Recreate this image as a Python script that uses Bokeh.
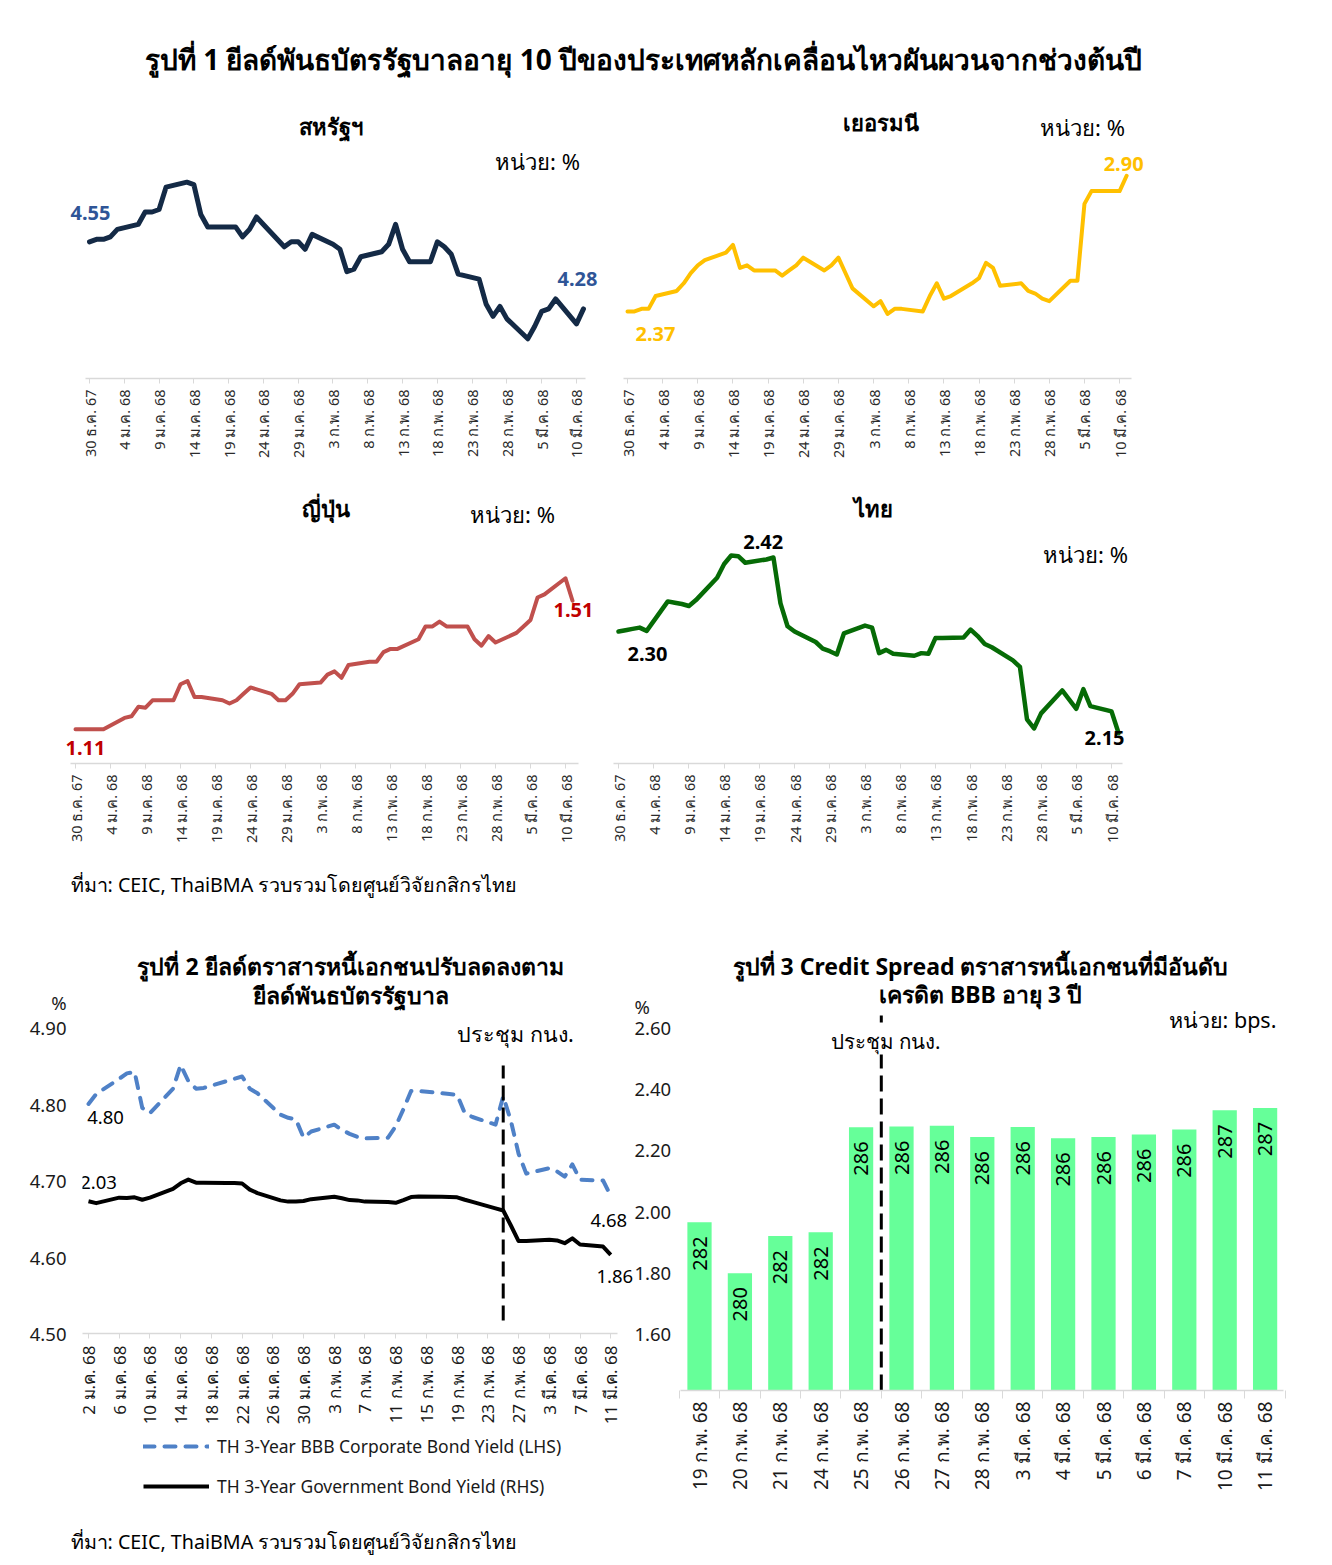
import math
import numpy as np
import pandas as pd
from bokeh.plotting import figure
from bokeh.models import Label, FixedTicker, Range1d, LinearAxis, Legend, LegendItem
from bokeh.layouts import column, row
from bokeh.embed import file_html
from bokeh.resources import INLINE
from bokeh.core.properties import value

FONT = "Noto Sans"

# ---------------- Figure 1 data: 10Y government bond yields (%) ----------------
f1_dates = ["2024-12-30", "2024-12-31", "2025-01-01", "2025-01-02", "2025-01-03",
            "2025-01-06", "2025-01-07", "2025-01-08", "2025-01-09", "2025-01-10",
            "2025-01-13", "2025-01-14", "2025-01-15", "2025-01-16", "2025-01-17",
            "2025-01-20", "2025-01-21", "2025-01-22", "2025-01-23", "2025-01-24",
            "2025-01-27", "2025-01-28", "2025-01-29", "2025-01-30", "2025-01-31",
            "2025-02-03", "2025-02-04", "2025-02-05", "2025-02-06", "2025-02-07",
            "2025-02-10", "2025-02-11", "2025-02-12", "2025-02-13", "2025-02-14",
            "2025-02-17", "2025-02-18", "2025-02-19", "2025-02-20", "2025-02-21",
            "2025-02-24", "2025-02-25", "2025-02-26", "2025-02-27", "2025-02-28",
            "2025-03-03", "2025-03-04", "2025-03-05", "2025-03-06", "2025-03-07",
            "2025-03-10", "2025-03-11"]
us_10y = [4.55, 4.56, 4.56, 4.57, 4.60,
          4.62, 4.67, 4.67, 4.68, 4.77,
          4.79, 4.78, 4.66, 4.61, 4.61,
          4.61, 4.57, 4.60, 4.65, 4.62,
          4.53, 4.55, 4.55, 4.52, 4.58,
          4.54, 4.52, 4.43, 4.44, 4.49,
          4.51, 4.54, 4.62, 4.52, 4.47,
          4.47, 4.55, 4.53, 4.50, 4.42,
          4.40, 4.30, 4.25, 4.29, 4.24,
          4.16, 4.21, 4.27, 4.28, 4.32,
          4.22, 4.28]
de_10y = [2.37, 2.37, 2.38, 2.38, 2.43,
          2.45, 2.48, 2.52, 2.55, 2.57,
          2.60, 2.63, 2.54, 2.55, 2.53,
          2.53, 2.51, 2.53, 2.55, 2.58,
          2.53, 2.55, 2.58, 2.52, 2.46,
          2.39, 2.41, 2.36, 2.38, 2.38,
          2.37, 2.43, 2.48, 2.42, 2.43,
          2.48, 2.50, 2.56, 2.54, 2.47,
          2.48, 2.45, 2.44, 2.42, 2.41,
          2.49, 2.49, 2.79, 2.84, 2.84,
          2.84, 2.90]
jp_10y = [1.11, 1.11, 1.11, 1.11, 1.11,
          1.145, 1.15, 1.18, 1.177, 1.20,
          1.20, 1.25, 1.26, 1.21, 1.21,
          1.20, 1.19, 1.20, 1.22, 1.24,
          1.22, 1.20, 1.20, 1.22, 1.25,
          1.255, 1.28, 1.29, 1.27, 1.31,
          1.32, 1.32, 1.35, 1.36, 1.36,
          1.39, 1.43, 1.43, 1.445, 1.43,
          1.43, 1.39, 1.37, 1.40, 1.38,
          1.41, 1.43, 1.45, 1.52, 1.53,
          1.58, 1.51]
th_10y = [2.300, 2.302, 2.304, 2.306, 2.301,
          2.346, 2.344, 2.342, 2.339, 2.348,
          2.382, 2.403, 2.416, 2.415, 2.405,
          2.410, 2.413, 2.343, 2.308, 2.300,
          2.284, 2.274, 2.270, 2.265, 2.297,
          2.309, 2.306, 2.267, 2.272, 2.266,
          2.263, 2.267, 2.266, 2.290, 2.290,
          2.291, 2.303, 2.293, 2.281, 2.276,
          2.256, 2.246, 2.166, 2.152, 2.175,
          2.210, 2.196, 2.182, 2.212, 2.186,
          2.178, 2.145]
f1_tick_dates = ["2024-12-30", "2025-01-04", "2025-01-09", "2025-01-14", "2025-01-19",
                 "2025-01-24", "2025-01-29", "2025-02-03", "2025-02-08", "2025-02-13",
                 "2025-02-18", "2025-02-23", "2025-02-28", "2025-03-05", "2025-03-10"]
f1_tick_labels = ["30 ธ.ค. 67", "4 ม.ค. 68", "9 ม.ค. 68", "14 ม.ค. 68", "19 ม.ค. 68",
                  "24 ม.ค. 68", "29 ม.ค. 68", "3 ก.พ. 68", "8 ก.พ. 68", "13 ก.พ. 68",
                  "18 ก.พ. 68", "23 ก.พ. 68", "28 ก.พ. 68", "5 มี.ค. 68", "10 มี.ค. 68"]

# ---------------- Figure 2 data: TH 3Y yields ----------------
f2_dates = f1_dates[3:]
corp_bbb = [4.800, 4.813,
            4.833, 4.840, 4.842, 4.795, 4.788,
            4.820, 4.851, 4.830, 4.820, 4.821,
            4.830, 4.833, 4.836, 4.820, 4.814,
            4.786, 4.782, 4.780, 4.756, 4.764,
            4.773, 4.766, 4.761, 4.757, 4.755,
            4.756, 4.771, 4.793, 4.817, 4.817,
            4.814, 4.813, 4.812, 4.788, 4.783,
            4.773, 4.810, 4.778, 4.735, 4.709,
            4.716, 4.712, 4.705, 4.721, 4.701,
            4.700, 4.680]
gov_3y = [2.032, 2.026,
          2.044, 2.043, 2.045, 2.037, 2.044,
          2.073, 2.091, 2.103, 2.093, 2.093,
          2.092, 2.092, 2.090, 2.070, 2.059,
          2.035, 2.031, 2.031, 2.033, 2.039,
          2.047, 2.042, 2.036, 2.035, 2.031,
          2.030, 2.027, 2.036, 2.046, 2.048,
          2.047, 2.046, 2.045, 2.037, 2.030,
          2.009, 2.002, 1.953, 1.902, 1.902,
          1.906, 1.904, 1.895, 1.911, 1.891,
          1.884, 1.857]
f2_tick_dates = ["2025-01-02", "2025-01-06", "2025-01-10", "2025-01-14", "2025-01-18",
                 "2025-01-22", "2025-01-26", "2025-01-30", "2025-02-03", "2025-02-07",
                 "2025-02-11", "2025-02-15", "2025-02-19", "2025-02-23", "2025-02-27",
                 "2025-03-03", "2025-03-07", "2025-03-11"]
f2_tick_labels = ["2 ม.ค. 68", "6 ม.ค. 68", "10 ม.ค. 68", "14 ม.ค. 68", "18 ม.ค. 68",
                  "22 ม.ค. 68", "26 ม.ค. 68", "30 ม.ค. 68", "3 ก.พ. 68", "7 ก.พ. 68",
                  "11 ก.พ. 68", "15 ก.พ. 68", "19 ก.พ. 68", "23 ก.พ. 68", "27 ก.พ. 68",
                  "3 มี.ค. 68", "7 มี.ค. 68", "11 มี.ค. 68"]
f2_lhs_ticks = [4.5, 4.6, 4.7, 4.8, 4.9]
f2_rhs_ticks = [1.6, 1.8, 2.0, 2.2, 2.4, 2.6]
f2_series_names = ["TH 3-Year BBB Corporate Bond Yield (LHS)",
                   "TH 3-Year Government Bond Yield (RHS)"]
mpc_time = "2025-02-25"

# ---------------- Figure 3 data: credit spread (bps) ----------------
f3_cats = ["19 ก.พ. 68", "20 ก.พ. 68", "21 ก.พ. 68", "24 ก.พ. 68", "25 ก.พ. 68",
           "26 ก.พ. 68", "27 ก.พ. 68", "28 ก.พ. 68", "3 มี.ค. 68", "4 มี.ค. 68",
           "5 มี.ค. 68", "6 มี.ค. 68", "7 มี.ค. 68", "10 มี.ค. 68", "11 มี.ค. 68"]
f3_spread = [282.12, 280.03, 281.56, 281.71, 286.03, 286.06, 286.10, 285.63,
             286.04, 285.58, 285.63, 285.73, 285.94, 286.73, 286.83]
f3_mpc_after = "25 ก.พ. 68"

CORP_STYLE = dict(line_color="#4f81c7", line_width=4, line_dash="11 10",
                  line_cap="round", line_join="round")
GOV_STYLE = dict(line_color="#000000", line_width=4, line_join="round")


def days(lst, origin):
    o = pd.Timestamp(origin)
    return [float((pd.Timestamp(s) - o) / pd.Timedelta(days=1)) for s in lst]


class Geo:
    """Panel geometry in page pixels and the matching data ranges."""
    def __init__(s, ox, oy, w, h, fl, fr, ft, fb, x0, x1, y0, y1):
        s.ox, s.oy, s.w, s.h = ox, oy, w, h
        s.fl, s.fr, s.ft, s.fb = fl, fr, ft, fb
        s.x0, s.x1, s.y0, s.y1 = x0, x1, y0, y1

    def page(s, px, py):
        x = s.x0 + (px - s.fl) * (s.x1 - s.x0) / (s.fr - s.fl)
        y = s.y0 + (s.fb - py) * (s.y1 - s.y0) / (s.fb - s.ft)
        return x, y

    def px_x(s, px):
        return s.page(px, s.fb)[0]

    def off(s, x, y, dx, dy):
        return (x + dx * (s.x1 - s.x0) / (s.fr - s.fl),
                y - dy * (s.y1 - s.y0) / (s.fb - s.ft))


def geo_time(ox, oy, w, h, fl, fr, ft, fb, tick0, ppd, y_at_fb, ppu):
    return Geo(ox, oy, w, h, fl, fr, ft, fb,
               (fl - tick0) / ppd, (fr - tick0) / ppd, y_at_fb, y_at_fb + (fb - ft) / ppu)


def make_fig(g, x_axis="below", y_axis=None):
    p = figure(width=g.w, height=g.h, x_range=Range1d(g.x0, g.x1),
               y_range=Range1d(g.y0, g.y1), output_backend="svg",
               toolbar_location=None, title=None,
               x_axis_location=x_axis, y_axis_location=y_axis,
               min_border_left=g.fl - g.ox, min_border_right=g.ox + g.w - g.fr,
               min_border_top=g.ft - g.oy, min_border_bottom=g.oy + g.h - g.fb)
    try:
        p.frame_align = False
    except Exception:
        pass
    p.outline_line_color = None
    p.background_fill_color = "white"
    p.border_fill_color = "white"
    for gr in p.grid:
        gr.visible = False
    return p


def text(p, g, px, py, t, size, bold=False, color="#000000", align="center",
         baseline="middle", bg=None):
    x, y = g.page(px, py)
    lab = Label(x=x, y=y, text=t, text_font=FONT, text_font_size=f"{size}px",
                text_font_style="bold" if bold else "normal", text_color=color,
                text_align=align, text_baseline=baseline)
    if bg is not None:
        lab.background_fill_color = bg
    p.add_layout(lab)


def vlabel(p, g, x, y, dx, dy, t, color, size=20, bold=True):
    lx, ly = g.off(x, y, dx, dy)
    p.add_layout(Label(x=lx, y=ly, text=t, text_font=FONT, text_font_size=f"{size}px",
                       text_font_style="bold" if bold else "normal", text_color=color,
                       text_align="center", text_baseline="middle"))


def style_time_axis(p, g, tick_x, tick_labels, size, color, bounds_px, standoff=6):
    ax = p.xaxis[0]
    ax.ticker = FixedTicker(ticks=tick_x)
    ax.major_label_overrides = {int(t): l for t, l in zip(tick_x, tick_labels)}
    ax.major_label_orientation = math.pi / 2
    ax.major_label_text_font = FONT
    ax.major_label_text_font_size = f"{size}px"
    ax.major_label_text_color = color
    ax.axis_line_color = "#d9d9d9"
    ax.axis_line_width = 1.5
    ax.major_tick_line_color = "#d9d9d9"
    ax.major_tick_out = 5
    ax.major_tick_in = 0
    ax.minor_tick_line_color = None
    ax.major_label_standoff = standoff
    ax.bounds = (g.px_x(bounds_px[0]), g.px_x(bounds_px[1]))


# ---------------- title figure ----------------
gt = Geo(0, 0, 1324, 95, 0, 1324, 0, 95, 0, 1324, 0, 95)
title_fig = make_fig(gt, x_axis=None, y_axis=None)
text(title_fig, gt, 643, 58,
     "รูปที่ 1 ยีลด์พันธบัตรรัฐบาลอายุ 10 ปีของประเทศหลักเคลื่อนไหวผันผวนจากช่วงต้นปี",
     28, bold=True)

x1d = days(f1_dates, "2024-12-30")
t1 = [int(v) for v in days(f1_tick_dates, "2024-12-30")]


def small_panel(g, vals, color, lw, name, unit_xy, name_xy, lab_color,
                first_off, last_off, bounds_px, peak_off=None):
    p = make_fig(g)
    p.line(x1d, vals, line_color=color, line_width=lw, line_join="round", line_cap="round")
    style_time_axis(p, g, t1, f1_tick_labels, 14.5, "#2b2b2b", bounds_px)
    text(p, g, name_xy[0], name_xy[1], name, 22, bold=True)
    text(p, g, unit_xy[0], unit_xy[1], "หน่วย: %", 22)
    vlabel(p, g, x1d[0], vals[0], first_off[0], first_off[1], f"{vals[0]:.2f}", lab_color)
    vlabel(p, g, x1d[-1], vals[-1], last_off[0], last_off[1], f"{vals[-1]:.2f}", lab_color)
    if peak_off is not None:
        i = int(np.argmax(vals))
        vlabel(p, g, x1d[i], vals[i], peak_off[0], peak_off[1], f"{vals[i]:.2f}", lab_color)
    return p


g_us = geo_time(0, 95, 608, 375, 0, 608, 95, 378, 89, 6.957, 4.0, 248.5)
us_fig = small_panel(g_us, us_10y, "#142a46", 5, "สหรัฐฯ", (537, 160), (330, 125),
                     "#2f5597", (1, -29), (-6, -30), (85, 585))
g_de = geo_time(608, 95, 716, 375, 608, 1324, 95, 378, 627, 7.03, 2.108, 256)
de_fig = small_panel(g_de, de_10y, "#ffc000", 4, "เยอรมนี", (1082, 126), (880, 121),
                     "#ffc000", (28, 23), (-3, -12), (623, 1131))
g_jp = geo_time(0, 470, 603, 390, 0, 603, 470, 763, 75, 7.0, 1.003, 321)
jp_fig = small_panel(g_jp, jp_10y, "#c0504d", 4, "ญี่ปุ่น", (512, 513), (325, 507),
                     "#c00000", (10, 19), (1, 9), (70, 578))
g_th = geo_time(603, 470, 721, 390, 603, 1324, 470, 763, 618, 7.043, 2.0985, 655)
th_fig = small_panel(g_th, th_10y, "#066b06", 4.5, "ไทย", (1085, 553), (873, 507),
                     "#000000", (29, 22), (-14, 5), (613, 1122), peak_off=(32, -14))

# ---------------- source 1 ----------------
gs1 = Geo(0, 860, 1324, 75, 0, 1324, 860, 935, 0, 1324, 0, 75)
src1_fig = make_fig(gs1, x_axis=None, y_axis=None)
text(src1_fig, gs1, 70, 884, "ที่มา: CEIC, ThaiBMA รวบรวมโดยศูนย์วิจัยกสิกรไทย", 19.7, align="left")

# ---------------- Figure 2 ----------------
x2d = days(f2_dates, "2025-01-02")
t2 = [int(v) for v in days(f2_tick_dates, "2025-01-02")]
g2 = geo_time(0, 935, 675, 493, 82, 634, 935, 1333, 88, 7.68, 4.5, 765)
c2 = make_fig(g2, y_axis="left")
rhs_top = 1.6 + (g2.fb - g2.ft) / 306.0
c2.extra_y_ranges = {"gov": Range1d(1.6, rhs_top)}
c2.line(x2d, corp_bbb, **CORP_STYLE)
c2.line(x2d, gov_3y, y_range_name="gov", **GOV_STYLE)
style_time_axis(c2, g2, t2, f2_tick_labels, 17, "#1a1a1a", (82, 617), standoff=7)
# "%" unit markers sit on the axes just above the top tick
pct_l = g2.page(0, 1002)[1]
pct_r = 1.6 + (g2.fb - 1006) / 306.0
ly = c2.yaxis[0]
ly.ticker = FixedTicker(ticks=f2_lhs_ticks + [pct_l])
ly.major_label_overrides = {**{v: f"{v:.2f}" for v in f2_lhs_ticks}, pct_l: "%"}
ry = LinearAxis(y_range_name="gov", ticker=FixedTicker(ticks=f2_rhs_ticks + [pct_r]))
ry.major_label_overrides = {**{v: f"{v:.2f}" for v in f2_rhs_ticks}, pct_r: "%"}
c2.add_layout(ry, "right")
for ax, so in ((ly, 16), (ry, 0)):
    ax.axis_line_color = None
    ax.major_tick_line_color = None
    ax.minor_tick_line_color = None
    ax.major_tick_out = 0
    ax.major_tick_in = 0
    ax.major_label_standoff = so
    ax.major_label_text_font = FONT
    ax.major_label_text_font_size = "18.5px"
    ax.major_label_text_color = "#1a1a1a"

mpc2 = float((pd.Timestamp(mpc_time) - pd.Timestamp("2025-01-02")) / pd.Timedelta(days=1))
_, yv0 = g2.page(0, 1320)
_, yv1 = g2.page(0, 1065)
c2.segment(x0=[mpc2], y0=[yv0], x1=[mpc2], y1=[yv1], line_color="black", line_width=3,
           line_dash="15 7")
text(c2, g2, 350, 965, "รูปที่ 2 ยีลด์ตราสารหนี้เอกชนปรับลดลงตาม", 23, bold=True)
text(c2, g2, 350, 994, "ยีลด์พันธบัตรรัฐบาล", 23, bold=True)
text(c2, g2, 515, 1033, "ประชุม กนง.", 21.5)
vlabel(c2, g2, x2d[0], corp_bbb[0], 17, 13, f"{corp_bbb[0]:.2f}", "#000000", 18.5, False)
vlabel(c2, g2, x2d[-1], corp_bbb[-1], -2, 25, f"{corp_bbb[-1]:.2f}", "#000000", 18.5, False)
to_l = lambda v: 4.5 + (v - 1.6) * 306.0 / 765.0
vlabel(c2, g2, x2d[0], to_l(gov_3y[0]), 10, -19, f"{gov_3y[0]:.2f}", "#000000", 18.5, False)
vlabel(c2, g2, x2d[-1], to_l(gov_3y[-1]), 4, 22, f"{gov_3y[-1]:.2f}", "#000000", 18.5, False)

# legend strip below figure 2: the two series are drawn here on an off-screen range
# so that the legend can show their line styles
gl = Geo(0, 1428, 675, 87, 0, 675, 1428, 1515, 0, 675, 0, 87)
leg_fig = make_fig(gl, x_axis=None, y_axis=None)
leg_fig.extra_y_ranges = {"off": Range1d(100, 101)}
lr_corp = leg_fig.line(x2d, corp_bbb, y_range_name="off", **CORP_STYLE)
lr_gov = leg_fig.line(x2d, gov_3y, y_range_name="off", **GOV_STYLE)
legend = Legend(items=[LegendItem(label=f2_series_names[0], renderers=[lr_corp]),
                       LegendItem(label=f2_series_names[1], renderers=[lr_gov])],
                location=(143, 1515 - 1498), orientation="vertical", padding=0, margin=0,
                spacing=16, glyph_height=22, label_height=22, glyph_width=66,
                label_standoff=8, border_line_color=None, background_fill_alpha=0,
                label_text_font=FONT, label_text_font_size="17.5px", label_text_color="#1a1a1a")
leg_fig.add_layout(legend)

# ---------------- Figure 3 ----------------
xc = list(range(len(f3_cats)))
g3 = Geo(675, 935, 649, 580, 675, 1324, 935, 1390,
         (675 - 699) / 40.4, (1324 - 699) / 40.4, 275.2, 275.2 + (1390 - 935) / 24.3)
c3 = make_fig(g3)
c3.vbar(x=xc, top=f3_spread, bottom=g3.y0, width=0.6, fill_color="#66ff99", line_color=None)
c3.text(x=xc, y=f3_spread, text=[f"{v:.0f}" for v in f3_spread], angle=np.pi / 2,
        text_align="right", text_baseline="middle", y_offset=14,
        text_font=value(FONT), text_font_size="20px", text_color="#000000")
ax3 = c3.xaxis[0]
ax3.ticker = FixedTicker(ticks=xc, minor_ticks=[i - 0.5 for i in range(len(f3_cats) + 1)])
ax3.major_label_overrides = {i: c for i, c in zip(xc, f3_cats)}
ax3.major_label_orientation = math.pi / 2
ax3.major_label_text_font = FONT
ax3.major_label_text_font_size = "19px"
ax3.major_label_text_color = "#1a1a1a"
ax3.axis_line_color = "#d9d9d9"
ax3.axis_line_width = 1.5
ax3.major_tick_line_color = None
ax3.major_tick_out = 0
ax3.major_tick_in = 0
ax3.minor_tick_line_color = "#d9d9d9"
ax3.minor_tick_out = 8
ax3.minor_tick_in = 0
ax3.major_label_standoff = 3
ax3.bounds = (g3.px_x(680), g3.px_x(1283))
mpc3 = f3_cats.index(f3_mpc_after) + 0.5
_, yb0 = g3.page(0, 1390)
_, yb1 = g3.page(0, 1015)
c3.segment(x0=[mpc3], y0=[yb0], x1=[mpc3], y1=[yb1], line_color="black", line_width=3,
           line_dash="16 7")
text(c3, g3, 980, 965, "รูปที่ 3 Credit Spread ตราสารหนี้เอกชนที่มีอันดับ", 23, bold=True)
text(c3, g3, 980, 993, "เครดิต BBB อายุ 3 ปี", 23, bold=True)
text(c3, g3, 1222, 1019, "หน่วย: bps.", 21.5)
text(c3, g3, 885, 1040, "ประชุม กนง.", 20.5, bg="white")

# ---------------- source 2 ----------------
gs2 = Geo(0, 1515, 1324, 42, 0, 1324, 1515, 1557, 0, 1324, 0, 42)
src2_fig = make_fig(gs2, x_axis=None, y_axis=None)
text(src2_fig, gs2, 70, 1541, "ที่มา: CEIC, ThaiBMA รวบรวมโดยศูนย์วิจัยกสิกรไทย", 19.7, align="left")

layout = column(title_fig, row(us_fig, de_fig), row(jp_fig, th_fig), src1_fig,
                row(column(c2, leg_fig), c3), src2_fig)
open("out.html", "w").write(file_html(layout, INLINE))
